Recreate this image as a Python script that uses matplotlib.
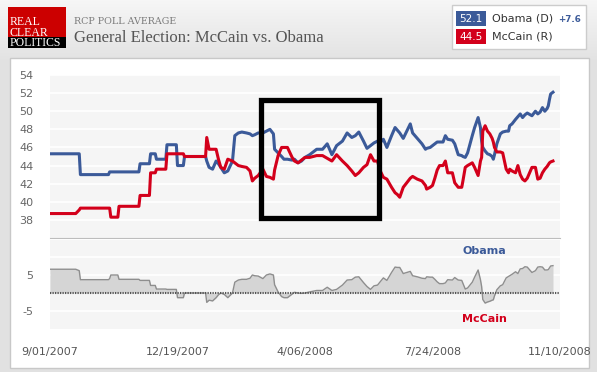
import matplotlib
matplotlib.use("Agg")
import matplotlib.pyplot as plt
import numpy as np
import pandas as pd
from matplotlib.patches import Rectangle

plt.rcParams["axes.unicode_minus"] = False

# RCP poll average
dates = [
    "2007-09-01", "2007-09-23", "2007-09-26", "2007-09-27", "2007-10-21", "2007-10-22",
    "2007-10-23", "2007-10-29", "2007-10-30", "2007-11-16", "2007-11-17", "2007-11-25",
    "2007-11-26", "2007-11-30", "2007-12-01", "2007-12-09", "2007-12-10", "2007-12-18",
    "2007-12-19", "2007-12-24", "2007-12-25", "2008-01-12", "2008-01-13", "2008-01-15",
    "2008-01-18", "2008-01-21", "2008-01-23", "2008-01-25", "2008-01-28", "2008-01-31",
    "2008-02-04", "2008-02-06", "2008-02-09", "2008-02-12", "2008-02-16", "2008-02-19",
    "2008-02-21", "2008-02-23", "2008-02-26", "2008-03-01", "2008-03-04", "2008-03-07",
    "2008-03-10", "2008-03-11", "2008-03-14", "2008-03-17", "2008-03-19", "2008-03-22",
    "2008-03-26", "2008-03-28", "2008-03-31", "2008-04-03", "2008-04-06", "2008-04-10",
    "2008-04-16", "2008-04-21", "2008-04-25", "2008-04-29", "2008-05-03", "2008-05-08",
    "2008-05-12", "2008-05-16", "2008-05-19", "2008-05-22", "2008-05-26", "2008-05-29",
    "2008-06-01", "2008-06-04", "2008-06-07", "2008-06-09", "2008-06-12", "2008-06-15",
    "2008-06-19", "2008-06-22", "2008-06-24", "2008-06-26", "2008-06-29", "2008-07-02",
    "2008-07-05", "2008-07-07", "2008-07-11", "2008-07-15", "2008-07-18", "2008-07-19",
    "2008-07-22", "2008-07-24", "2008-07-26", "2008-07-28", "2008-07-30", "2008-08-02",
    "2008-08-04", "2008-08-06", "2008-08-10", "2008-08-12", "2008-08-15", "2008-08-18",
    "2008-08-19", "2008-08-21", "2008-08-23", "2008-08-27", "2008-08-29", "2008-09-01",
    "2008-09-03", "2008-09-04", "2008-09-05", "2008-09-07", "2008-09-09", "2008-09-11",
    "2008-09-13", "2008-09-14", "2008-09-15", "2008-09-17", "2008-09-20", "2008-09-22",
    "2008-09-25", "2008-09-27", "2008-09-28", "2008-09-30", "2008-10-03", "2008-10-05",
    "2008-10-07", "2008-10-09", "2008-10-11", "2008-10-13", "2008-10-17", "2008-10-20",
    "2008-10-22", "2008-10-24", "2008-10-26", "2008-10-28", "2008-10-30", "2008-10-31",
    "2008-11-01", "2008-11-02", "2008-11-04",
]
obama = [
    45.3, 45.3, 45.3, 43.0, 43.0, 43.3,
    43.3, 43.3, 43.3, 43.3, 44.2, 44.2,
    45.3, 45.3, 44.7, 44.7, 46.3, 46.3,
    44.0, 44.0, 45.0, 45.0, 44.5, 43.8,
    43.6, 44.5, 44.2, 43.8, 43.2, 43.4,
    44.5, 47.3, 47.6, 47.7, 47.6, 47.5,
    47.3, 47.4, 47.6, 47.6, 47.8, 48.0,
    47.5, 45.8, 45.4, 45.0, 44.7, 44.7,
    44.6, 44.7, 44.3, 44.5, 44.9, 45.2,
    45.8, 45.8, 46.4, 45.2, 46.2, 46.7,
    47.6, 47.1, 47.3, 47.7, 46.7, 45.9,
    46.2, 46.5, 46.7, 46.5, 46.9, 46.0,
    47.3, 48.2, 47.9, 47.6, 47.0, 47.8,
    48.6, 47.6, 47.0, 46.4, 45.8, 45.9,
    46.0, 46.2, 46.4, 46.6, 46.6, 46.6,
    47.3, 46.9, 46.8, 46.4, 45.2, 45.1,
    45.0, 44.9, 45.4, 47.3, 48.2, 49.3,
    48.2, 46.7, 46.0, 45.6, 45.3, 45.2,
    45.0, 44.7, 45.2, 46.4, 47.5, 47.7,
    47.8, 47.8, 48.4, 48.6, 49.1, 49.4,
    49.7, 49.3, 49.6, 49.8, 49.5, 50.0,
    49.7, 49.9, 50.4, 50.0, 50.3, 50.6,
    51.3, 51.9, 52.1,
]
mccain = [
    38.7, 38.7, 39.1, 39.3, 39.3, 39.3,
    38.3, 38.3, 39.5, 39.5, 40.7, 40.7,
    43.2, 43.2, 43.6, 43.6, 45.3, 45.3,
    45.3, 45.3, 45.0, 45.0, 47.1, 45.8,
    45.8, 45.8, 44.7, 43.8, 43.6, 44.7,
    44.5, 44.3, 44.0, 43.9, 43.8, 43.4,
    42.3, 42.6, 42.9, 43.6, 42.8, 42.7,
    42.5, 43.5, 45.1, 46.0, 46.0, 46.0,
    44.9, 44.5, 44.3, 44.6, 44.9, 44.9,
    45.1, 45.1, 44.8, 44.5, 45.2, 44.5,
    44.0, 43.4, 42.9, 43.2, 43.8, 44.1,
    45.2, 44.5, 44.5, 43.5, 42.7, 42.5,
    41.6, 41.0, 40.8, 40.5, 41.6, 42.1,
    42.6, 42.8, 42.5, 42.3, 41.8, 41.4,
    41.6, 41.8, 42.6, 43.5, 44.0, 44.0,
    44.5, 43.2, 43.2, 42.1, 41.6, 41.6,
    42.3, 43.8, 44.0, 44.3, 43.8, 42.9,
    44.5, 44.9, 47.8, 48.4, 47.8, 47.5,
    47.0, 46.6, 46.0, 45.5, 45.5, 45.4,
    43.6, 43.2, 43.6, 43.4, 43.2, 44.0,
    43.0, 42.5, 42.3, 42.6, 43.8, 43.8,
    42.5, 42.6, 43.2, 43.6, 43.9, 44.1,
    44.3, 44.4, 44.5,
]

tick_dates = ["2007-09-01", "2007-12-19", "2008-04-06", "2008-07-24", "2008-11-10"]
tick_labels = ["9/01/2007", "12/19/2007", "4/06/2008", "7/24/2008", "11/10/2008"]
top_ticks = [38, 40, 42, 44, 46, 48, 50, 52, 54]
spread_ticks = [-5, 5]
spread_grid = [10, 15]

# highlighted window (black box)
box_start, box_end = "2008-02-28", "2008-06-08"
box_low, box_high = 38.2, 51.2

BLUE = "#3b5a99"
RED = "#d3001b"

d = pd.to_datetime(dates)
ob = np.array(obama)
mc = np.array(mccain)
spread = ob - mc
xmin, xmax = pd.Timestamp(tick_dates[0]), pd.Timestamp(tick_dates[-1])

W, H = 597, 372
fig = plt.figure(figsize=(W / 100, H / 100), dpi=100)


def px_axes(x0, y0, x1, y1, **kw):
    return fig.add_axes([x0 / W, 1 - y1 / H, (x1 - x0) / W, (y1 - y0) / H], **kw)


# page background + header
bg = fig.add_axes([0, 0, 1, 1], zorder=-5)
bg.set_xlim(0, W)
bg.set_ylim(H, 0)
bg.axis("off")
shade = np.concatenate([np.linspace(0.965, 0.89, 60), np.full(H - 60, 0.885)])
bg.imshow(np.dstack([shade, shade, shade]).reshape(H, 1, 3),
          extent=[0, W, H, 0], aspect="auto", zorder=0)
bg.add_patch(Rectangle((10, 58), 579, 310, fc="white", ec="#c8c8c8", lw=1, zorder=1))

# logo
bg.add_patch(Rectangle((8, 7), 58, 30, fc="#cc0000", ec="none", zorder=2))
bg.add_patch(Rectangle((8, 37), 58, 11, fc="black", ec="none", zorder=2))
logo_font = dict(family="Liberation Serif", color="white", fontsize=8.5, va="baseline", zorder=3)
bg.text(9.5, 25, "REAL", **logo_font)
bg.text(9.5, 35.5, "CLEAR", **logo_font)
bg.text(9.5, 46.5, "POLITICS", **logo_font)

bg.text(74, 21, "RCP POLL AVERAGE", family="DejaVu Serif", fontsize=6.8,
        color="#7a7a7a", va="center", zorder=3)
bg.text(74, 38, "General Election: McCain vs. Obama", family="Liberation Serif",
        fontsize=12, color="#555555", va="center", zorder=3)

# legend box
bg.add_patch(Rectangle((452, 5), 134, 44, fc="white", ec="#cccccc", lw=1, zorder=2))
bg.add_patch(Rectangle((456, 11), 30, 15, fc=BLUE, ec="none", zorder=3))
bg.add_patch(Rectangle((456, 29), 30, 15, fc=RED, ec="none", zorder=3))
bg.text(471, 18.5, f"{ob[-1]:.1f}", color="white", fontsize=7.5, ha="center", va="center", zorder=4)
bg.text(471, 36.5, f"{mc[-1]:.1f}", color="white", fontsize=7.5, ha="center", va="center", zorder=4)
bg.text(492, 18.5, "Obama (D)", color="#333333", fontsize=8, va="center", zorder=4)
bg.text(492, 36.5, "McCain (R)", color="#333333", fontsize=8, va="center", zorder=4)
bg.text(558, 19.5, f"+{spread[-1]:.1f}", color=BLUE, fontsize=6.3, fontweight="bold",
        va="center", zorder=4)

# top chart: both candidates
ax = px_axes(50, 75, 560, 238)
ax.set_facecolor("#f5f5f5")
ax.plot(d, ob, color=BLUE, lw=2.2, solid_joinstyle="round", zorder=3)
ax.plot(d, mc, color=RED, lw=2.2, solid_joinstyle="round", zorder=4)
ax.set_xlim(xmin, xmax)
ax.set_ylim(36, 54)
ax.set_yticks(top_ticks)
ax.set_xticks([])
ax.grid(axis="y", color="white", lw=1.2)
ax.set_axisbelow(True)
ax.tick_params(axis="y", length=0, pad=12, labelsize=8, labelcolor="#666666")
for side in ["top", "left", "right"]:
    ax.spines[side].set_visible(False)
ax.spines["bottom"].set_color("#bdbdbd")

ax.add_patch(Rectangle((pd.Timestamp(box_start), box_low),
                       pd.Timestamp(box_end) - pd.Timestamp(box_start), box_high - box_low,
                       fill=False, ec="black", lw=3.8, joinstyle="miter", zorder=6, clip_on=False))

# bottom chart: spread
ax2 = px_axes(50, 239, 560, 329)
ax2.set_facecolor("#f5f5f5")
ax2.fill_between(d, spread, 0, color="#d5d5d5", lw=0, zorder=2)
ax2.plot(d, spread, color="#8e8e8e", lw=1, zorder=3)
ax2.axhline(0, color="#555555", lw=1.5, ls=(0, (0.6, 0.6)), zorder=4)
ax2.set_xlim(xmin, xmax)
ax2.set_ylim(-10, 15)
ax2.set_yticks(spread_ticks)
ax2.set_yticks(spread_grid, minor=True)
ax2.grid(which="both", axis="y", color="white", lw=1.2)
ax2.set_axisbelow(True)
ax2.tick_params(axis="y", which="both", length=0, pad=12, labelsize=8, labelcolor="#666666")
ax2.set_xticks(pd.to_datetime(tick_dates))
ax2.set_xticklabels(tick_labels)
ax2.tick_params(axis="x", length=0, pad=13, labelsize=8, labelcolor="#555555")
for side in ax2.spines:
    ax2.spines[side].set_visible(False)
label_day = pd.Timestamp("2008-09-06")
ax2.text(label_day, 11.8, "Obama", color=BLUE, fontsize=8, fontweight="bold",
         ha="center", va="center", zorder=5)
ax2.text(label_day, -7.1, "McCain", color=RED, fontsize=8, fontweight="bold",
         ha="center", va="center", zorder=5)

fig.savefig("out.png", dpi=100)
